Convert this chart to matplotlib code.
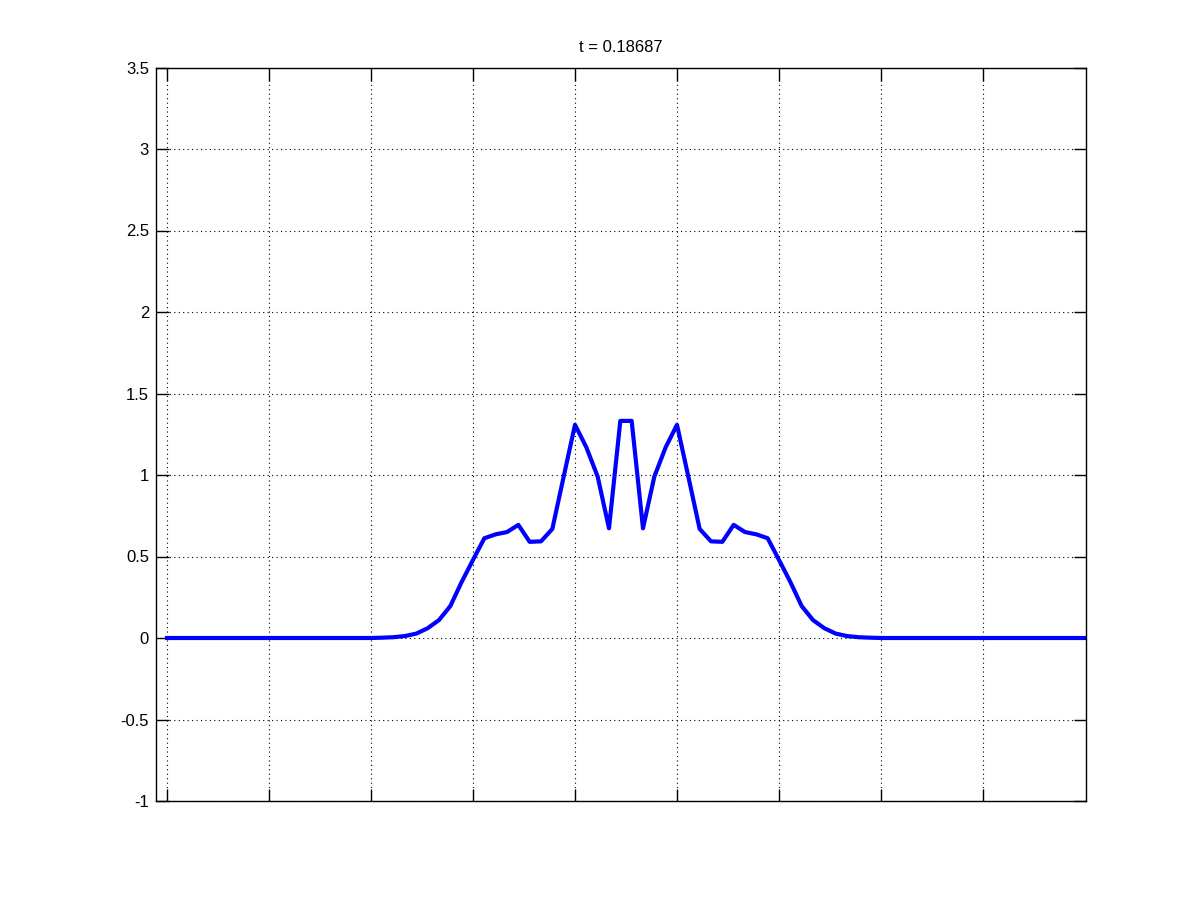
import numpy as np
import matplotlib
matplotlib.use("Agg")
import matplotlib.pyplot as plt

plt.rcParams['font.family'] = ['Liberation Sans', 'DejaVu Sans']

# left half of the profile (41 points), the right half mirrors it
left_half = [0.0] * 19 + [
    0.002, 0.005, 0.012, 0.027, 0.06, 0.11, 0.196, 0.344, 0.479, 0.612,
    0.636, 0.65, 0.694, 0.59, 0.593, 0.669, 0.99, 1.308, 1.17, 0.99,
    0.673, 1.332]
u = np.array(left_half + left_half[::-1])
x = np.arange(len(u)) / 9.0

title = 't = 0.18687'
yticks = [-1, -0.5, 0, 0.5, 1, 1.5, 2, 2.5, 3, 3.5]
yticklabels = ['-1', '-0.5', '0', '0.5', '1', '1.5', '2', '2.5', '3', '3.5']
xticks = np.arange(0, 9)

fig = plt.figure(figsize=(12, 9), dpi=100)
ax = fig.add_axes([0.13, 0.11, 0.775, 0.815])
ax.plot(x, u, color=(0, 0, 1), linewidth=3)

ax.set_xlim(-0.108, 9.01)
ax.set_ylim(-1, 3.5)
ax.set_xticks(xticks)
ax.set_xticklabels([])
ax.set_yticks(yticks)
ax.set_yticklabels(yticklabels)
ax.tick_params(direction='in', length=9, width=1, top=True, right=True,
               labelsize=12, pad=5)
ax.grid(True, linestyle=(0, (1, 3)), color='black', linewidth=0.8)
for s in ax.spines.values():
    s.set_linewidth(1)
ax.set_title(title, fontsize=12, pad=11)

fig.savefig('out.png', dpi=100)
